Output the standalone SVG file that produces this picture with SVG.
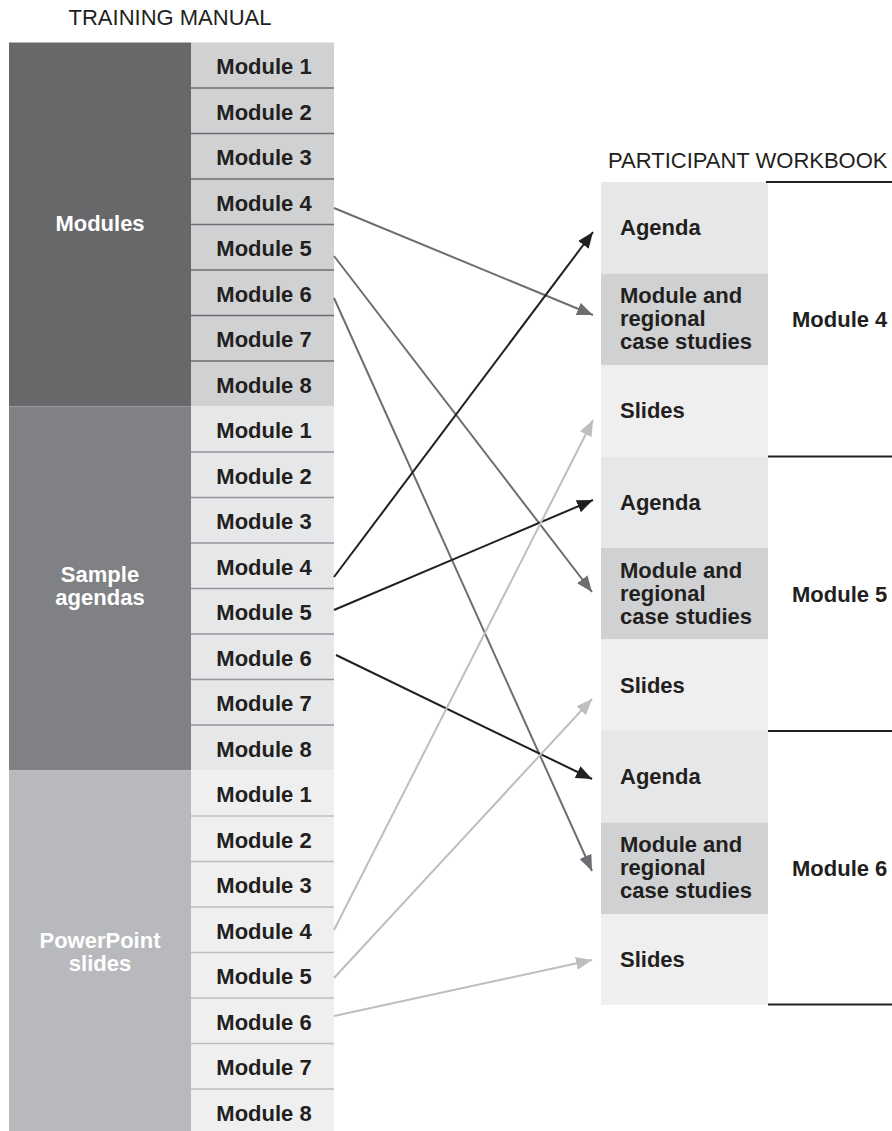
<svg xmlns="http://www.w3.org/2000/svg" width="892" height="1131" viewBox="0 0 892 1131">
<style>
.t{font-family:"Liberation Sans",Arial,sans-serif;font-size:22px;fill:#231f20}
.b{font-family:"Liberation Sans",Arial,sans-serif;font-size:22px;font-weight:bold;fill:#231f20}
.m{font-family:"Liberation Sans",Arial,sans-serif;font-size:22px;font-weight:bold;fill:#231f20;text-anchor:middle}
.w{font-family:"Liberation Sans",Arial,sans-serif;font-size:22px;font-weight:bold;fill:#ffffff;text-anchor:middle}
.s1{stroke:#6d6e71;stroke-width:1.6}
.s2{stroke:#939598;stroke-width:1.6}
.s3{stroke:#bcbec0;stroke-width:1.6}
.rule{stroke:#231f20;stroke-width:2.2}
.a1{stroke:#6d6e71;stroke-width:2;fill:none;marker-end:url(#h1)}
.a2{stroke:#231f20;stroke-width:2;fill:none;marker-end:url(#h2)}
.a3{stroke:#bcbec0;stroke-width:2;fill:none;marker-end:url(#h3)}
</style>
<defs>
<marker id="h1" markerUnits="userSpaceOnUse" markerWidth="17" markerHeight="13" refX="16" refY="6.5" orient="auto"><path d="M0,0 L16,6.5 L0,13 z" fill="#6d6e71"/></marker>
<marker id="h2" markerUnits="userSpaceOnUse" markerWidth="17" markerHeight="13" refX="16" refY="6.5" orient="auto"><path d="M0,0 L16,6.5 L0,13 z" fill="#231f20"/></marker>
<marker id="h3" markerUnits="userSpaceOnUse" markerWidth="17" markerHeight="13" refX="16" refY="6.5" orient="auto"><path d="M0,0 L16,6.5 L0,13 z" fill="#bcbec0"/></marker>
</defs>
<rect width="892" height="1131" fill="#ffffff"/>
<text class="t" x="170" y="25" text-anchor="middle">TRAINING MANUAL</text>
<text class="t" x="608" y="168">PARTICIPANT WORKBOOK</text>

<g id="modules-section">
<rect x="9" y="42.5" width="182" height="364" fill="#68686a"/>
<rect x="191" y="42.5" width="143" height="364" fill="#d0d1d3"/>
<text class="w" x="100" y="231">Modules</text>
<g class="s1">
<line x1="191" y1="88" x2="334" y2="88"/><line x1="191" y1="133.5" x2="334" y2="133.5"/><line x1="191" y1="179" x2="334" y2="179"/><line x1="191" y1="224.5" x2="334" y2="224.5"/><line x1="191" y1="270" x2="334" y2="270"/><line x1="191" y1="315.5" x2="334" y2="315.5"/><line x1="191" y1="361" x2="334" y2="361"/>
</g>
<text class="m" x="264" y="74">Module 1</text>
<text class="m" x="264" y="119.5">Module 2</text>
<text class="m" x="264" y="165">Module 3</text>
<text class="m" x="264" y="210.5">Module 4</text>
<text class="m" x="264" y="256">Module 5</text>
<text class="m" x="264" y="301.5">Module 6</text>
<text class="m" x="264" y="347">Module 7</text>
<text class="m" x="264" y="392.5">Module 8</text>
</g>

<g id="sample-agendas-section">
<rect x="9" y="406.5" width="182" height="364" fill="#808184"/>
<rect x="191" y="406.5" width="143" height="364" fill="#e6e7e8"/>
<text class="w" x="100" y="582">Sample</text>
<text class="w" x="100" y="605">agendas</text>
<g class="s2">
<line x1="191" y1="452" x2="334" y2="452"/><line x1="191" y1="497.5" x2="334" y2="497.5"/><line x1="191" y1="543" x2="334" y2="543"/><line x1="191" y1="588.5" x2="334" y2="588.5"/><line x1="191" y1="634" x2="334" y2="634"/><line x1="191" y1="679.5" x2="334" y2="679.5"/><line x1="191" y1="725" x2="334" y2="725"/>
</g>
<text class="m" x="264" y="438">Module 1</text>
<text class="m" x="264" y="483.5">Module 2</text>
<text class="m" x="264" y="529">Module 3</text>
<text class="m" x="264" y="574.5">Module 4</text>
<text class="m" x="264" y="620">Module 5</text>
<text class="m" x="264" y="665.5">Module 6</text>
<text class="m" x="264" y="711">Module 7</text>
<text class="m" x="264" y="756.5">Module 8</text>
</g>

<g id="powerpoint-section">
<rect x="9" y="770.5" width="182" height="360.5" fill="#b8b9bc"/>
<rect x="191" y="770.5" width="143" height="360.5" fill="#efefef"/>
<text class="w" x="100" y="948">PowerPoint</text>
<text class="w" x="100" y="971">slides</text>
<g class="s3">
<line x1="191" y1="816" x2="334" y2="816"/><line x1="191" y1="861.5" x2="334" y2="861.5"/><line x1="191" y1="907" x2="334" y2="907"/><line x1="191" y1="952.5" x2="334" y2="952.5"/><line x1="191" y1="998" x2="334" y2="998"/><line x1="191" y1="1043.5" x2="334" y2="1043.5"/><line x1="191" y1="1089" x2="334" y2="1089"/>
</g>
<text class="m" x="264" y="802">Module 1</text>
<text class="m" x="264" y="847.5">Module 2</text>
<text class="m" x="264" y="893">Module 3</text>
<text class="m" x="264" y="938.5">Module 4</text>
<text class="m" x="264" y="984">Module 5</text>
<text class="m" x="264" y="1029.5">Module 6</text>
<text class="m" x="264" y="1075">Module 7</text>
<text class="m" x="264" y="1120.5">Module 8</text>
</g>

<g id="workbook-module-4">
<rect x="601" y="182" width="167" height="91.5" fill="#e6e7e8"/>
<rect x="601" y="273.5" width="167" height="91.5" fill="#d0d1d3"/>
<rect x="601" y="365" width="167" height="91.5" fill="#efefef"/>
<text class="b" x="620" y="235">Agenda</text>
<text class="b" x="620" y="303">Module and</text>
<text class="b" x="620" y="326">regional</text>
<text class="b" x="620" y="349">case studies</text>
<text class="b" x="620" y="418">Slides</text>
<text class="b" x="792" y="327">Module 4</text>
</g>
<g id="workbook-module-5">
<rect x="601" y="456.5" width="167" height="91.5" fill="#e6e7e8"/>
<rect x="601" y="548" width="167" height="91.5" fill="#d0d1d3"/>
<rect x="601" y="639.5" width="167" height="91.5" fill="#efefef"/>
<text class="b" x="620" y="509.5">Agenda</text>
<text class="b" x="620" y="577.5">Module and</text>
<text class="b" x="620" y="600.5">regional</text>
<text class="b" x="620" y="623.5">case studies</text>
<text class="b" x="620" y="692.5">Slides</text>
<text class="b" x="792" y="601.5">Module 5</text>
</g>
<g id="workbook-module-6">
<rect x="601" y="731" width="167" height="91.5" fill="#e6e7e8"/>
<rect x="601" y="822.5" width="167" height="91.5" fill="#d0d1d3"/>
<rect x="601" y="914" width="167" height="91" fill="#efefef"/>
<text class="b" x="620" y="784">Agenda</text>
<text class="b" x="620" y="852">Module and</text>
<text class="b" x="620" y="875">regional</text>
<text class="b" x="620" y="898">case studies</text>
<text class="b" x="620" y="967">Slides</text>
<text class="b" x="792" y="876">Module 6</text>
</g>
<g id="workbook-rules">
<line class="rule" x1="766" y1="182" x2="892" y2="182"/>
<line class="rule" x1="768" y1="456.5" x2="892" y2="456.5"/>
<line class="rule" x1="768" y1="731" x2="892" y2="731"/>
<line class="rule" x1="768" y1="1004.5" x2="892" y2="1004.5"/>
</g>

<g id="connectors">
<line class="a1" x1="334" y1="208" x2="593" y2="315"/>
<line class="a1" x1="334" y1="256" x2="592" y2="592"/>
<line class="a1" x1="334" y1="298" x2="592" y2="871"/>
<line class="a2" x1="334" y1="577" x2="593" y2="232"/>
<line class="a2" x1="334" y1="610" x2="593" y2="500"/>
<line class="a2" x1="336" y1="655" x2="592" y2="779"/>
<line class="a3" x1="334" y1="930" x2="593" y2="420"/>
<line class="a3" x1="334" y1="978" x2="592" y2="699"/>
<line class="a3" x1="334" y1="1016" x2="592" y2="960"/>
</g>
</svg>
